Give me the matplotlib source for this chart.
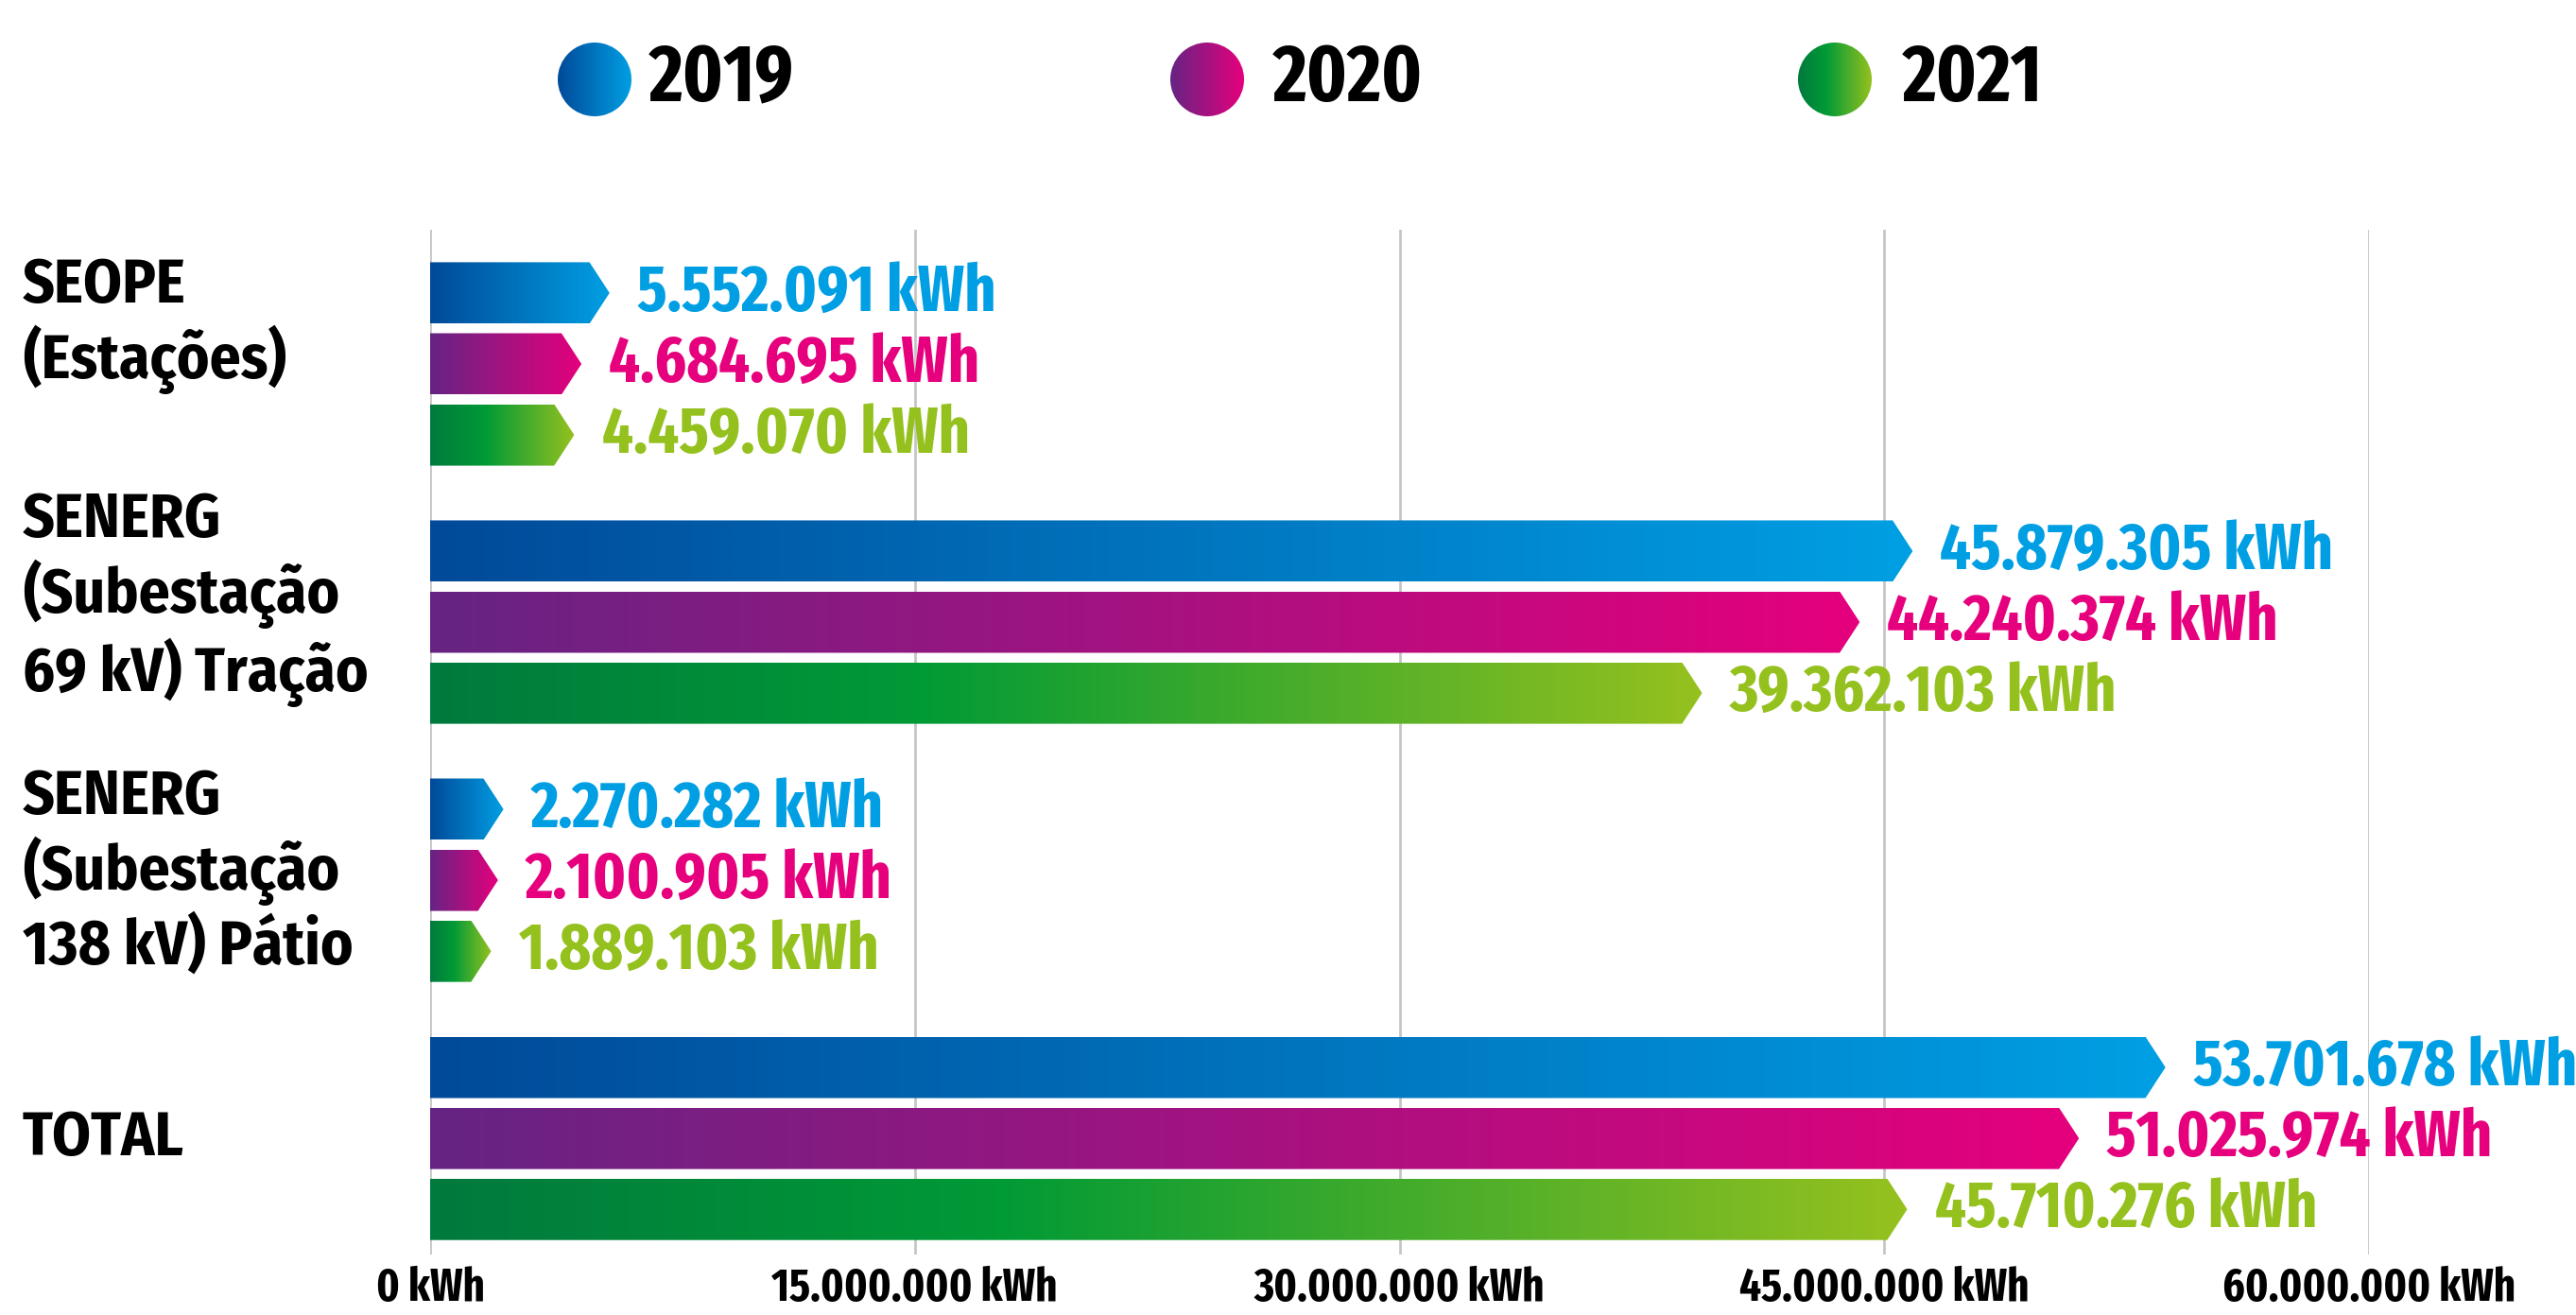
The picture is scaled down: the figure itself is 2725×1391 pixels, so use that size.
import numpy as np
import matplotlib
matplotlib.use("Agg")
import matplotlib.pyplot as plt
import matplotlib.transforms as mtransforms
from matplotlib import font_manager
from matplotlib.colors import LinearSegmentedColormap
from matplotlib.patches import Polygon, Circle

# data
categories = ["SEOPE\n(Estações)",
              "SENERG\n(Subestação\n69 kV) Tração",
              "SENERG\n(Subestação\n138 kV) Pátio",
              "TOTAL"]
years = ["2019", "2020", "2021"]
v2019 = [5552091, 45879305, 2270282, 53701678]
v2020 = [4684695, 44240374, 2100905, 51025974]
v2021 = [4459070, 39362103, 1889103, 45710276]
xticks = [0, 15000000, 30000000, 45000000, 60000000]

series = [v2019, v2020, v2021]

# style
grads = [
    LinearSegmentedColormap.from_list("g19", ["#004a99", "#009fe3"]),
    LinearSegmentedColormap.from_list("g20", ["#662483", "#e5007d"]),
    LinearSegmentedColormap.from_list("g21", [(0, "#007a3d"), (0.38, "#009a36"), (1, "#95c11f")]),
]
txt_colors = ["#009fe3", "#e6007e", "#95c11f"]

names = {f.name for f in font_manager.fontManager.ttflist}


def pick(prefs):
    for p in prefs:
        if p in names:
            return p
    return "DejaVu Sans"


narrow = pick(["Fira Sans Extra Condensed", "Fira Sans Condensed", "Roboto Condensed",
               "Saira ExtraCondensed", "Liberation Sans Narrow"])
catfont = pick(["Fira Sans Condensed", "Fira Sans", "Roboto Condensed", "Liberation Sans Narrow"])


def fmt(v):
    return f"{int(v):,}".replace(",", ".") + " kWh"


W, H = 2725, 1391
fig = plt.figure(figsize=(W / 100, H / 100), dpi=100)
ax = fig.add_axes([455 / W, 1 - 1327 / H, (2506 - 455) / W, (1327 - 243) / H])

bar_h = 0.238
offsets = [-0.275, 0, 0.275]
tip = 620000  # arrow tip length in data units

grad = np.linspace(0, 1, 256).reshape(1, -1)

for gi in range(len(categories)):
    for si, vals in enumerate(series):
        v = vals[gi]
        yc = gi + offsets[si]
        y0, y1 = yc - bar_h / 2, yc + bar_h / 2
        pts = [(0, y0), (v - tip, y0), (v, yc), (v - tip, y1), (0, y1)]
        patch = Polygon(pts, closed=True, facecolor="none", edgecolor="none")
        ax.add_patch(patch)
        im = ax.imshow(grad, extent=(0, v, y1, y0), aspect="auto", cmap=grads[si],
                       interpolation="bicubic", zorder=2)
        im.set_clip_path(patch)
        ax.annotate(fmt(v), xy=(v, yc), xytext=(21, 0), textcoords="offset points",
                    va="center", ha="left", fontsize=50, fontweight="bold",
                    family=narrow, color=txt_colors[si], annotation_clip=False)

ax.set_xlim(0, 60000000)
ax.set_ylim(3.45, -0.52)
ax.set_xticks(xticks)
ax.set_xticklabels([fmt(t) for t in xticks], fontsize=35, fontweight="bold", family=narrow)
ax.set_yticks([])
ax.tick_params(axis="x", length=0, pad=9)
ax.grid(axis="x", color="#c6c6c6", lw=2)
ax.set_axisbelow(True)
for s in ax.spines.values():
    s.set_visible(False)

# category labels
label_shift = [-0.15, -0.09, -0.03, 0.0]
trans = mtransforms.blended_transform_factory(fig.transFigure, ax.transData)
for gi, cat in enumerate(categories):
    ax.text(24 / W, gi + label_shift[gi], cat, transform=trans,
            fontsize=47, fontweight="bold", family=catfont, va="center", ha="left",
            linespacing=1.17)

# legend
lax = fig.add_axes([0, 1 - 170 / H, 1, 170 / H])
circ_x = [629, 1277, 1941]
text_x = [687, 1347, 2013]
cy = 84
r = 39
for i, yr in enumerate(years):
    c = Circle((circ_x[i], cy), r, facecolor="none", edgecolor="none")
    lax.add_patch(c)
    im = lax.imshow(grad, extent=(circ_x[i] - r, circ_x[i] + r, cy + r, cy - r),
                    aspect="auto", cmap=grads[i], interpolation="bicubic")
    im.set_clip_path(c)
    lax.text(text_x[i], cy, yr, fontsize=61, fontweight="bold", family=narrow,
             va="center", ha="left", color="black")
lax.set_xlim(0, W)
lax.set_ylim(170, 0)
lax.axis("off")

fig.savefig("out.png", dpi=100)
